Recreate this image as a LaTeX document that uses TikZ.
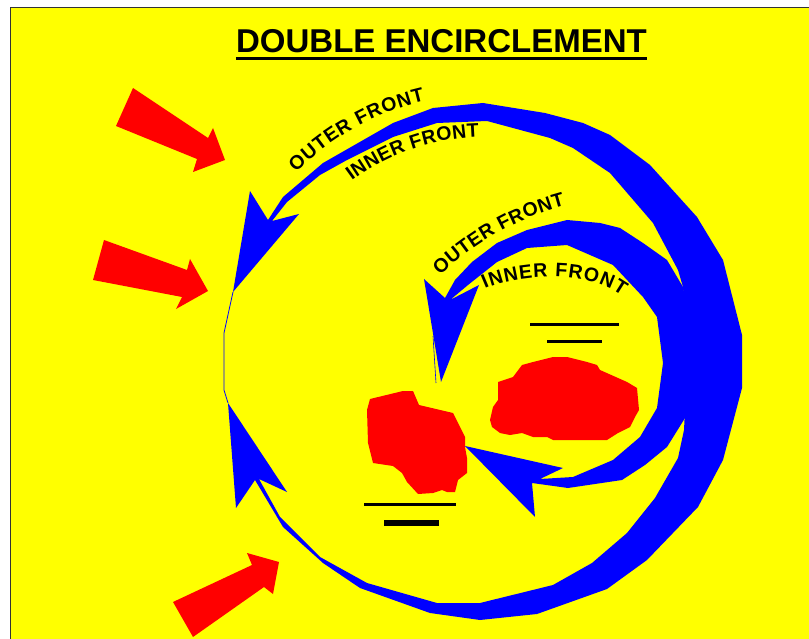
\documentclass[tikz,border=0pt]{standalone}
\usepackage{fontspec}
\setmainfont{Liberation Sans}
\usetikzlibrary{decorations.text}
\definecolor{bgyellow}{RGB}{255,255,0}
\definecolor{frontblue}{RGB}{0,0,255}
\definecolor{enemyred}{RGB}{255,0,0}
\newcommand\lblfont{\fontsize{19.5}{19.5}\selectfont\bfseries}
\begin{document}
\begin{tikzpicture}[x=1pt,y=-1pt,
  band/.style={fill=frontblue, draw=none},
  attack/.style={fill=enemyred, draw=none},
  enemy/.style={fill=enemyred, draw=none},
  unitbar/.style={draw=black, line width=3pt},
  thinfront/.style={draw=frontblue, line width=0.8pt},
  lbl/.style={decorate, decoration={text along path, text align={fit to path}}}]
\useasboundingbox (0,0) rectangle (809,639);
\fill[white] (0,0) rectangle (809,639);
\fill[bgyellow] (10,8) rectangle (809,639);
\draw[black!80, line width=1pt] (10,639) -- (10,8) -- (809,8);

% title
\node[font=\fontsize{33}{33}\selectfont\bfseries, anchor=base, inner sep=0pt] (title) at (441.5,53) {DOUBLE ENCIRCLEMENT};
\draw[line width=3pt] ([yshift=-5.5pt]title.base west) -- ([yshift=-5.5pt]title.base east);

% red attack arrows
\fill[attack] (133,88) -- (208,138) -- (213,128) -- (225,160) -- (193,172) -- (197,159) -- (116,126) -- cycle;
\fill[attack] (104,240) -- (187,270) -- (190,259) -- (208,291) -- (176,309) -- (182,297) -- (93,280) -- cycle;
\fill[attack] (173,602) -- (252,565) -- (247,553) -- (279,562) -- (273,594) -- (264,587) -- (193,637) -- cycle;

% outer front band
\fill[band] (250,191) -- (268,220) -- (283,197) -- (323,163) -- (393,123) -- (433,108) -- (483,103) -- (545,113) -- (583,123) -- (610,135) -- (650,165) -- (697,217) -- (723,260) -- (742,335) -- (742,388) -- (723,460) -- (698,507) -- (647,560) -- (607,589) -- (537,614) -- (480,620) -- (430,613) -- (360,588) -- (323,563) -- (283,527) -- (255,480) -- (236,508) -- (228,403) -- (287,492) -- (259,479) -- (280,517) -- (320,557) -- (367,583) -- (437,603) -- (480,603) -- (553,585) -- (592,563) -- (627,533) -- (655,498) -- (678,458) -- (684,430) -- (688,350) -- (683,287) -- (678,270) -- (653,223) -- (610,173) -- (573,148) -- (550,138) -- (487,121) -- (437,123) -- (393,137) -- (347,160) -- (320,175) -- (287,202) -- (272,221) -- (299,214) -- (233,292) -- cycle;
\draw[thinfront] (233,292) -- (224,333) -- (224,390) -- (228,403);

% inner front band
\fill[band] (465,446) -- (563,468) -- (540,479) -- (573,477) -- (613,460) -- (640,437) -- (657,408) -- (663,363) -- (657,317) -- (643,297) -- (613,265) -- (567,245) -- (527,248) -- (497,262) -- (468,285) -- (450,300) -- (479,285) -- (441,382) -- (424,279) -- (445,298) -- (455,280) -- (472,262) -- (497,243) -- (527,230) -- (567,220) -- (600,223) -- (620,228) -- (643,243) -- (667,260) -- (683,287) -- (692,330) -- (692,380) -- (690,410) -- (667,447) -- (645,465) -- (622,480) -- (568,488) -- (532,483) -- (535,517) -- cycle;
\draw[frontblue, line width=0.6pt] (433,336) -- (436,383);

% enemy pockets
\fill[enemy] (370,399) -- (403,391) -- (413,391) -- (419,405) -- (453,413) -- (465,437) -- (465,447) -- (467,458) -- (467,473) -- (458,480) -- (455,492) -- (447,492) -- (442,490) -- (433,493) -- (418,494) -- (407,482) -- (402,473) -- (393,466) -- (373,463) -- (368,443) -- (367,410) -- cycle;
\fill[enemy] (498,382) -- (513,377) -- (522,365) -- (533,362) -- (553,357) -- (567,357) -- (587,362) -- (597,365) -- (600,370) -- (627,382) -- (637,388) -- (639,410) -- (635,417) -- (630,427) -- (618,433) -- (607,440) -- (553,440) -- (547,437) -- (533,437) -- (522,433) -- (510,435) -- (500,433) -- (492,427) -- (490,420) -- (493,407) -- (498,400) -- cycle;

% unit symbols
\draw[unitbar] (530,324) -- (619,324);
\draw[unitbar] (547,341) -- (602,341);
\draw[unitbar] (364,504) -- (456,504);
\draw[unitbar, line width=6pt] (384,523) -- (439,523);

% curved labels
\path[lbl, decoration={text={|\lblfont|OUTER FRONT}}]
  (296.2,172.2) .. controls (331.6,136.8) and (376.2,112.1) .. (424.9,100.8);
\path[lbl, decoration={text={|\lblfont|INNER FRONT}}]
  (351.8,180.9) .. controls (388.7,153.6) and (433.2,138.3) .. (479.1,137.1);
\path[lbl, decoration={text={|\lblfont|OUTER FRONT}}]
  (440.2,275.4) .. controls (475.3,241.9) and (518.3,217.9) .. (565.2,205.4);
\path[lbl, decoration={text={|\lblfont|INNER FRONT}}]
  (485,289) .. controls (515,275) and (585,268) .. (622,296);
\end{tikzpicture}
\end{document}
